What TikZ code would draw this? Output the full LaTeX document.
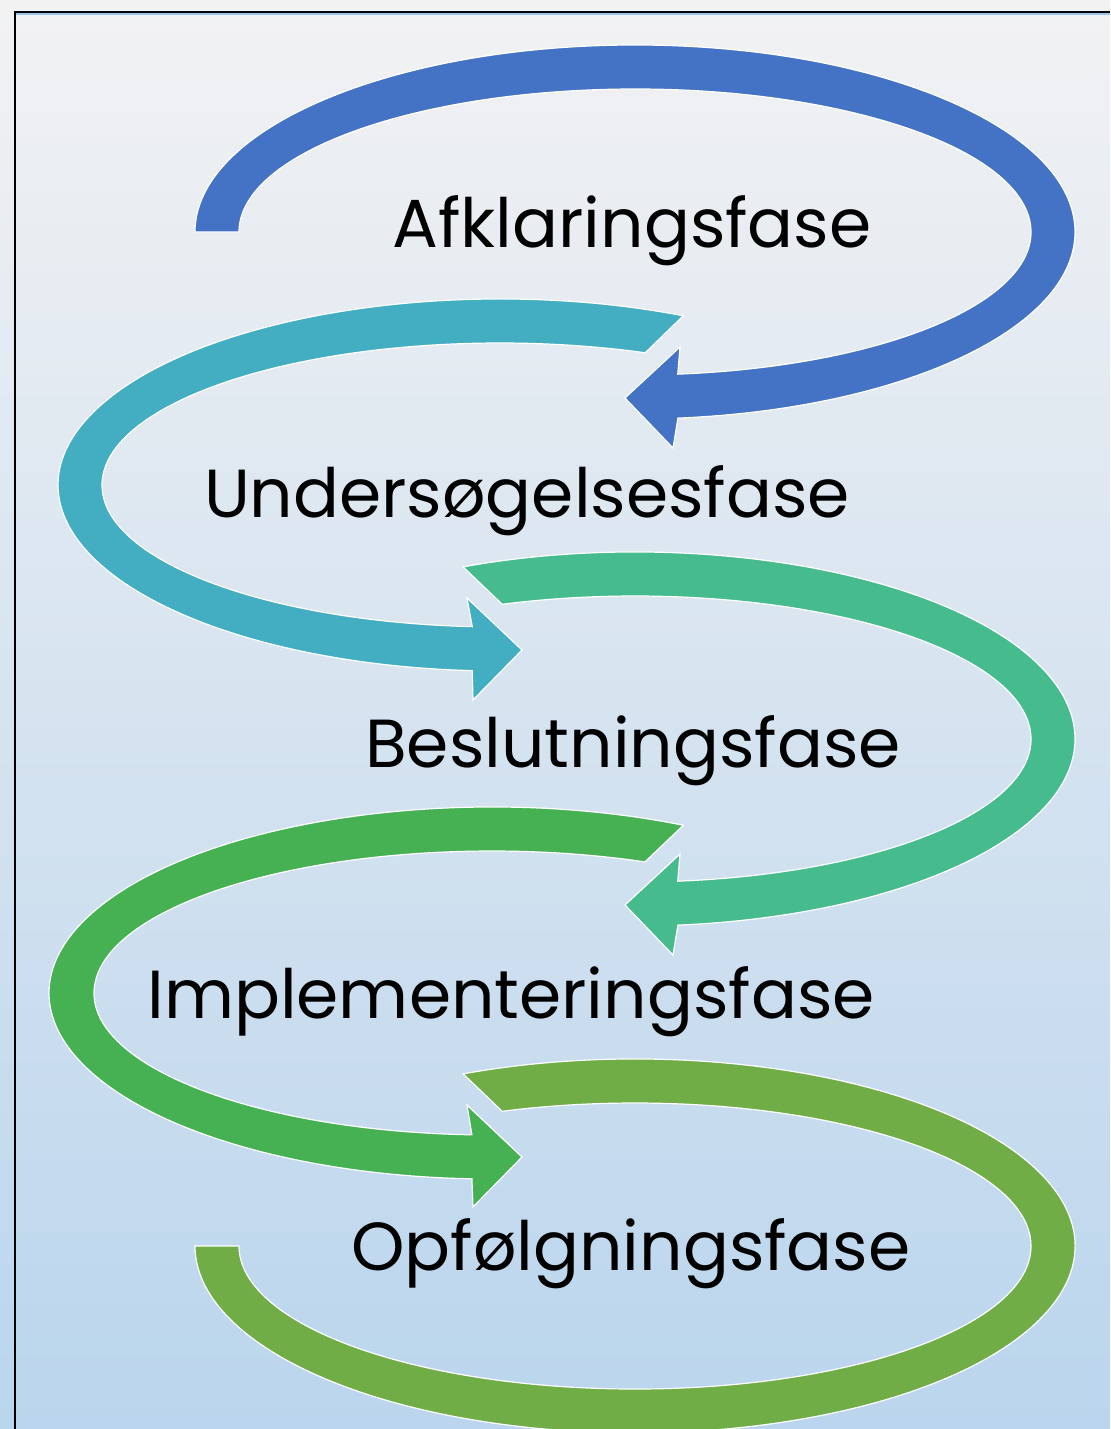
\documentclass[tikz,border=0pt]{standalone}
\usepackage{fontspec}
\setmainfont{Poppins}
\usepackage{tikz}
\definecolor{bgtop}{RGB}{242,242,243}
\definecolor{bgbot}{RGB}{186,213,237}
\definecolor{rimblue}{RGB}{157,195,230}
\definecolor{phblue}{RGB}{68,114,196}
\definecolor{phteal}{RGB}{67,174,193}
\definecolor{phsea}{RGB}{70,187,141}
\definecolor{phgreen}{RGB}{70,177,83}
\definecolor{pholive}{RGB}{112,173,71}

\begin{document}
\begin{tikzpicture}[x=0.5pt,y=0.5pt,
  band/.style={draw=white,line width=0.6pt},
  phase/.style={anchor=base,inner sep=0pt,font=\fontsize{34}{40}\selectfont}]
\useasboundingbox (0,0) rectangle (1110,-1429);
\shade[top color=bgtop,bottom color=bgbot] (0,0) rectangle (1110,-1429);
\draw[rimblue,line width=1pt] (16,-14) -- (1110,-14);
\draw[black,line width=1pt] (15,-1429) -- (15,-12) -- (1110,-12);

\coordinate (bluetip) at (625,-398);
\coordinate (bluehb) at (673,-448);
\coordinate (blueht) at (680,-347);
\coordinate (tealtip) at (522,-650);
\coordinate (tealhb) at (473,-700);
\coordinate (tealht) at (467,-598);
\coordinate (seatip) at (625,-905);
\coordinate (seahb) at (673,-955);
\coordinate (seaht) at (680,-854);
\coordinate (greentip) at (522,-1157);
\coordinate (greenhb) at (473,-1207);
\coordinate (greenht) at (467,-1105);

\begin{scope}[shift={(635,-232)}]
\fill[phblue,band] (180:440 and 187) arc[start angle=180,end angle=-84.4,x radius=440,y radius=187]
  -- (bluehb) -- (bluetip) -- (blueht)
  -- (-83.8:396 and 143) arc[start angle=-83.8,end angle=180,x radius=396,y radius=143] -- cycle;
\end{scope}
\begin{scope}[shift={(500,-485)}]
\fill[phteal,band] (65.5:442 and 186) arc[start angle=65.5,end angle=266.4,x radius=442,y radius=186]
  -- (tealhb) -- (tealtip) -- (tealht)
  -- (266:398 and 142) arc[start angle=266,end angle=68.6,x radius=398,y radius=142] -- cycle;
\end{scope}
\begin{scope}[shift={(635,-739)}]
\fill[phsea,band] (113:440 and 187) arc[start angle=113,end angle=-84.4,x radius=440,y radius=187]
  -- (seahb) -- (seatip) -- (seaht)
  -- (-83.8:396 and 143) arc[start angle=-83.8,end angle=109.6,x radius=396,y radius=143] -- cycle;
\end{scope}
\begin{scope}[shift={(492,-993)}]
\fill[phgreen,band] (64.4:443 and 186) arc[start angle=64.4,end angle=267.4,x radius=443,y radius=186]
  -- (greenhb) -- (greentip) -- (greenht)
  -- (267.1:398 and 142) arc[start angle=267.1,end angle=67.4,x radius=398,y radius=142] -- cycle;
\end{scope}
\begin{scope}[shift={(635,-1246)}]
\fill[pholive,band] (113:440 and 187) arc[start angle=113,end angle=-180,x radius=440,y radius=187]
  -- (-180:396 and 143) arc[start angle=-180,end angle=109.6,x radius=396,y radius=143] -- cycle;
\end{scope}

\node[phase] (afk) at (632,-247) {Afklaringsfase};
\node[phase] (und) at (527,-517) {Undersøgelsesfase};
\node[phase] (bes) at (633,-767) {Beslutningsfase};
\node[phase] (imp) at (511,-1018) {Implementeringsfase};
\node[phase] (opf) at (631,-1270) {Opfølgningsfase};
\end{tikzpicture}
\end{document}
